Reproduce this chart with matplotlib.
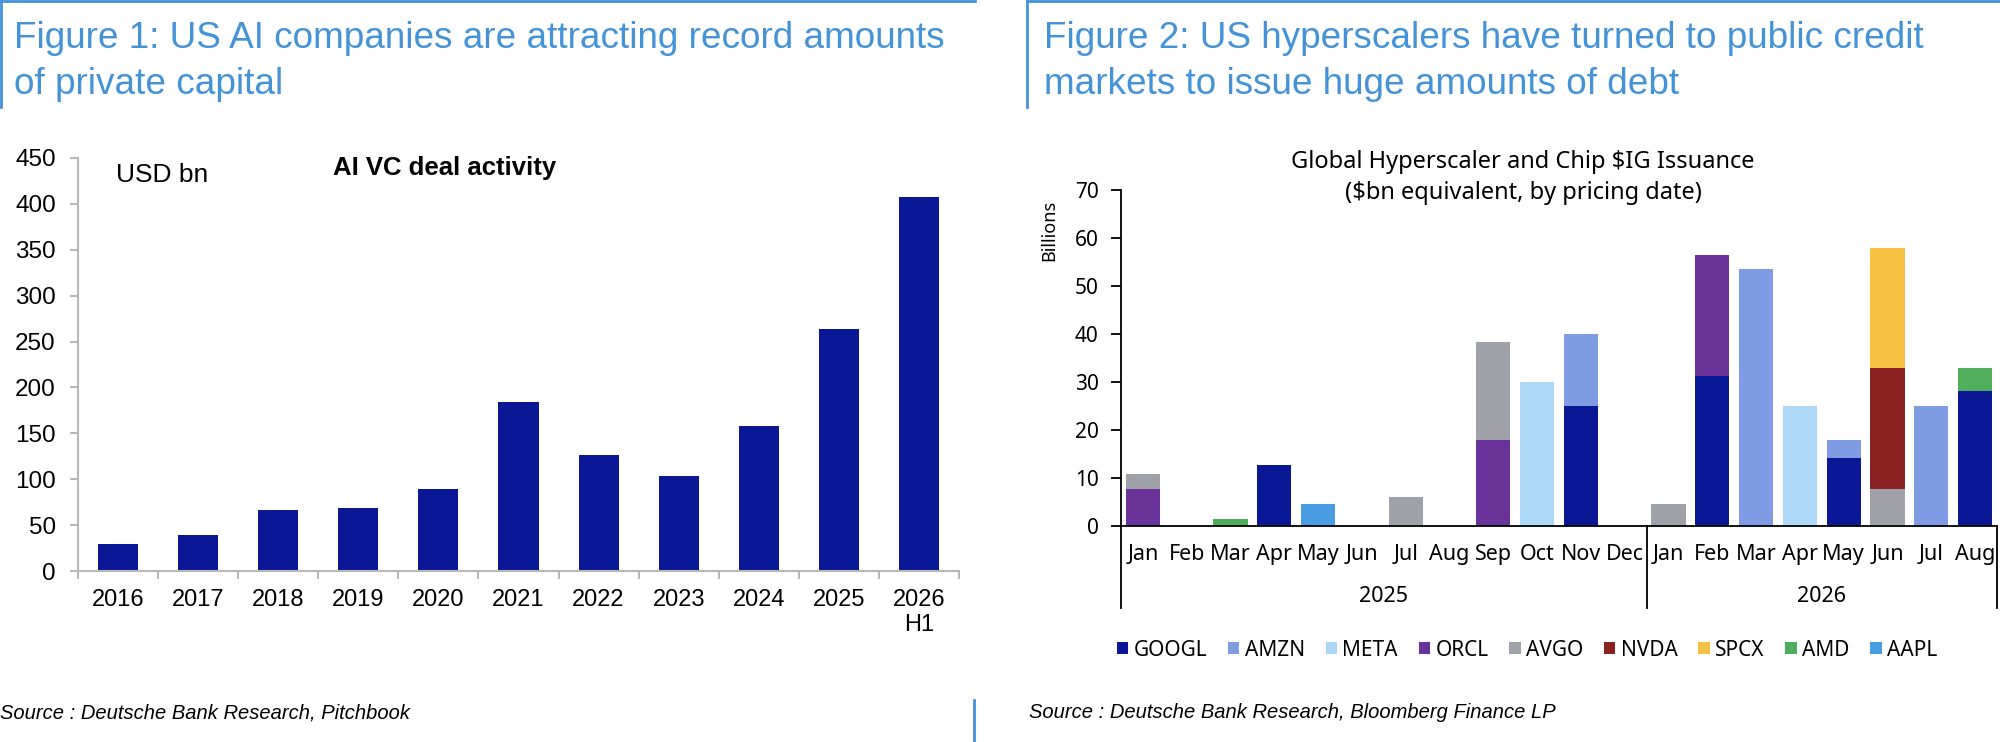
import numpy as np
import matplotlib
matplotlib.use('Agg')
import matplotlib.pyplot as plt
from matplotlib.patches import Patch
from matplotlib.lines import Line2D
import matplotlib.transforms as mtransforms

plt.rcParams['font.family'] = ['Liberation Sans', 'DejaVu Sans']

# ---- data: figure 1 (AI VC deal activity, USD bn)
years = ['2016', '2017', '2018', '2019', '2020', '2021', '2022', '2023', '2024', '2025', '2026\nH1']
vc_deals = [29, 39, 67, 69, 89, 184, 126, 104, 158, 264, 407]

# ---- data: figure 2 (hyperscaler / chip IG issuance, $bn)
months = ['Jan', 'Feb', 'Mar', 'Apr', 'May', 'Jun', 'Jul', 'Aug', 'Sep', 'Oct', 'Nov', 'Dec',
          'Jan', 'Feb', 'Mar', 'Apr', 'May', 'Jun', 'Jul', 'Aug']
year_groups = ['2025', '2026']
year_sizes = [12, 8]
GOOGL = [0, 0, 0, 12.6, 0, 0, 0, 0, 0, 0, 25.0, 0, 0, 31.2, 0, 0, 14.1, 0, 0, 28.1]
AMZN = [0, 0, 0, 0, 0, 0, 0, 0, 0, 0, 15.0, 0, 0, 0, 53.6, 0, 3.7, 0, 25.0, 0]
META = [0, 0, 0, 0, 0, 0, 0, 0, 0, 30.0, 0, 0, 0, 0, 0, 25.0, 0, 0, 0, 0]
ORCL = [7.7, 0, 0, 0, 0, 0, 0, 0, 17.9, 0, 0, 0, 0, 25.2, 0, 0, 0, 0, 0, 0]
AVGO = [3.0, 0, 0, 0, 0, 0, 5.9, 0, 20.5, 0, 0, 0, 4.5, 0, 0, 0, 0, 7.7, 0, 0]
NVDA = [0, 0, 0, 0, 0, 0, 0, 0, 0, 0, 0, 0, 0, 0, 0, 0, 0, 25.2, 0, 0]
SPCX = [0, 0, 0, 0, 0, 0, 0, 0, 0, 0, 0, 0, 0, 0, 0, 0, 0, 25.1, 0, 0]
AMD = [0, 0, 1.5, 0, 0, 0, 0, 0, 0, 0, 0, 0, 0, 0, 0, 0, 0, 0, 0, 4.8]
AAPL = [0, 0, 0, 0, 4.5, 0, 0, 0, 0, 0, 0, 0, 0, 0, 0, 0, 0, 0, 0, 0]
tickers = ['GOOGL', 'AMZN', 'META', 'ORCL', 'AVGO', 'NVDA', 'SPCX', 'AMD', 'AAPL']
series = [GOOGL, AMZN, META, ORCL, AVGO, NVDA, SPCX, AMD, AAPL]
colors = ['#0a1896', '#7f9be3', '#acd8f6', '#6a3399', '#a1a1a9',
          '#8b2121', '#f5c244', '#4fae5c', '#4a9de3']

head_blue = '#4493d8'
W, H = 2000, 742

fig = plt.figure(figsize=(20, 7.42), dpi=100)

def fx(px):
    return px / W

def fy(py):
    return 1 - py / H

# frame lines at top / bottom
for xs, ys in [((0, 975), (1, 1)), ((1, 1), (0, 107)),
               ((1027, 2000), (1, 1)), ((1027, 1027), (0, 107)),
               ((974, 974), (700, 742))]:
    fig.add_artist(Line2D([fx(x) for x in xs], [fy(y) for y in ys],
                          color=head_blue, lw=2))

# headings
hsize = 26.6
fig.text(fx(14), fy(38), 'Figure 1: US AI companies are attracting record amounts',
         color=head_blue, fontsize=hsize, va='center')
fig.text(fx(14), fy(85), 'of private capital', color=head_blue, fontsize=hsize, va='center')
fig.text(fx(1044), fy(38), 'Figure 2: US hyperscalers have turned to public credit',
         color=head_blue, fontsize=hsize, va='center')
fig.text(fx(1044), fy(85), 'markets to issue huge amounts of debt',
         color=head_blue, fontsize=hsize, va='center')

# ---------------- figure 1
ax1 = fig.add_axes([fx(78), fy(571), fx(959) - fx(78), fy(158) - fy(571)])
x1 = np.arange(len(years))
ax1.bar(x1, vc_deals, width=0.5, color='#0a1896')
ax1.set_xlim(-0.5, len(years) - 0.5)
ax1.set_ylim(0, 450)
ax1.set_yticks(np.arange(0, 451, 50))
ax1.set_xticks(x1)
ax1.set_xticklabels(years)
ax1.set_xticks(np.arange(-0.5, len(years), 1), minor=True)
ax1.tick_params(axis='x', which='major', length=0, pad=13, labelsize=17)
ax1.tick_params(axis='x', which='minor', length=6, color='#b8b8b8', width=1.5)
ax1.tick_params(axis='y', length=6, color='#b8b8b8', width=1.5, pad=10, labelsize=17.5)
for s in ['top', 'right']:
    ax1.spines[s].set_visible(False)
for s in ['left', 'bottom']:
    ax1.spines[s].set_color('#b8b8b8')
    ax1.spines[s].set_linewidth(1.5)
fig.text(fx(116), fy(175), 'USD bn', fontsize=19, va='center')
fig.text(fx(333), fy(168), 'AI VC deal activity', fontsize=18.5, fontweight='bold', va='center')
fig.text(fx(0), fy(713), 'Source : Deutsche Bank Research, Pitchbook',
         fontsize=14.5, style='italic', va='center')

# ---------------- figure 2
rfont = ['Noto Sans', 'DejaVu Sans']
ax2 = fig.add_axes([fx(1121), fy(525.7), fx(1997) - fx(1121), fy(190) - fy(525.7)])
x2 = np.arange(len(months))
bottom = np.zeros(len(months))
for name, vals, c in zip(tickers, series, colors):
    ax2.bar(x2, vals, width=0.78, bottom=bottom, color=c, label=name)
    bottom += np.array(vals)
ax2.set_xlim(-0.5, len(months) - 0.5)
ax2.set_ylim(0, 70)
ax2.set_yticks(np.arange(0, 71, 10))
ax2.set_xticks(x2)
ax2.set_xticklabels(months, family=rfont, fontsize=15.5)
ax2.tick_params(axis='x', length=0, pad=13)
ax2.tick_params(axis='y', length=7, width=1.3, pad=9, labelsize=15)
for lab in ax2.get_yticklabels():
    lab.set_family(rfont)
for s in ['top', 'right']:
    ax2.spines[s].set_visible(False)
for s in ['left', 'bottom']:
    ax2.spines[s].set_linewidth(1.3)
ax2.set_ylabel('Billions', family=rfont, fontsize=13, fontweight='bold', labelpad=4)
ax2.yaxis.set_label_coords(-0.072, 0.88)

# year grouping below month labels
trans = mtransforms.blended_transform_factory(ax2.transData, ax2.transAxes)
drop = -82 / 335.7
edges = np.concatenate([[0], np.cumsum(year_sizes)]) - 0.5
for e in edges:
    ax2.plot([e, e], [0, drop], color='black', lw=1.3, transform=trans, clip_on=False)
for i, yr in enumerate(year_groups):
    mid = (edges[i] + edges[i + 1]) / 2
    ax2.text(mid, -71 / 335.7, yr, transform=trans, ha='center', va='center',
             family=rfont, fontsize=15.5)

fig.text(fx(1523), fy(162), 'Global Hyperscaler and Chip $IG Issuance',
         family=rfont, fontsize=17, ha='center', va='center')
fig.text(fx(1523), fy(193), '($bn equivalent, by pricing date)',
         family=rfont, fontsize=17, ha='center', va='center')

handles = [Patch(facecolor=c) for c in colors]
fig.legend(handles, tickers, loc='center', bbox_to_anchor=(fx(1527), fy(650)),
           ncol=len(tickers), frameon=False, handlelength=0.55, handleheight=0.55,
           handletextpad=0.25, columnspacing=1.0, prop={'family': rfont, 'size': 15})

fig.text(fx(1029), fy(712), 'Source : Deutsche Bank Research, Bloomberg Finance LP',
         fontsize=14.5, style='italic', va='center')

fig.savefig('out.png', dpi=100)
